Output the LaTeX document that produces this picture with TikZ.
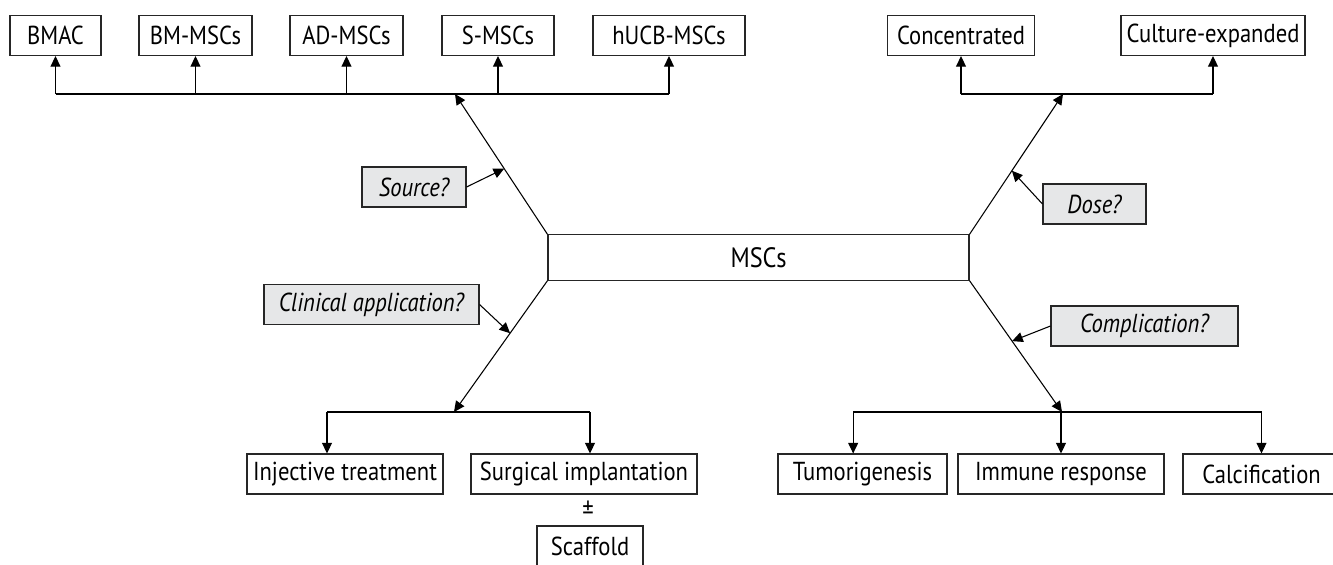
\documentclass[tikz,border=0pt]{standalone}
\usepackage{fontspec}
\setmainfont{PT Sans}[FakeStretch=0.87]
\usetikzlibrary{arrows.meta,calc}
\definecolor{qgray}{HTML}{E6E7E8}

\begin{document}
\begin{tikzpicture}[x=0.75pt, y=-0.75pt, line width=0.8pt,
  box/.style={draw=black!85, minimum height=30pt, inner sep=0pt,
    font=\fontsize{19.5}{22}\selectfont},
  w/.style={minimum width=#1*0.75pt},
  qbox/.style={box, fill=qgray, font=\fontsize{19.5}{22}\selectfont\itshape},
  arr/.style={-{Triangle[length=8pt, width=7.5pt]}}]
\clip (0,0) rectangle (1333,564);
% sources
\node [box, w=91] (bmac) at (55.5,35.5) {BMAC};
\node [box, w=113] (bm) at (195.5,35.5) {BM-MSCs};
\node [box, w=113] (ad) at (346.5,35.5) {AD-MSCs};
\node [box, w=112] (s) at (498,35.5) {S-MSCs};
\node [box, w=152] (hucb) at (669,35.5) {hUCB-MSCs};
% dose
\node [box, w=147] (conc) at (961,35.5) {Concentrated};
\node [box, w=184] (cult) at (1213,35.5) {Culture-expanded};
% centre
\node [box, w=421, minimum height=34pt, font=\fontsize{21}{24}\selectfont] (mscs) at (758.5,257.5) {MSCs};
% questions
\node [qbox, w=104] (source) at (414,187) {Source?};
\node [qbox, w=103] (dose) at (1094.5,204) {Dose?};
\node [qbox, w=215] (clin) at (371.5,304.5) {Clinical application?};
\node [qbox, w=187] (compl) at (1144.5,326) {Complication?};
% application
\node [box, w=196] (inj) at (345,474) {Injective treatment};
\node [box, w=226] (surg) at (584,474) {Surgical implantation};
\node [font=\fontsize{19.5}{22}\selectfont] (pm) at (588,510) {±};
\node [box, w=106] (scaf) at (590,546) {Scaffold};
% complications
\node [box, w=169] (tum) at (862.5,474) {Tumorigenesis};
\node [box, w=206] (imm) at (1061,474) {Immune response};
\node [box, w=157] (calc) at (1261.5,474) {Calcification};

\coordinate (tl) at (455,94);
\coordinate (tr) at (1063,94);
\coordinate (bl) at (454,412);
\coordinate (br) at (1062,412);
\coordinate (injtop) at ([xshift=-13.5pt]inj.north);
\coordinate (surgtop) at ([xshift=4.5pt]surg.north);
\coordinate (tumtop) at ([xshift=-7pt]tum.north);

% buses
\draw (bmac.south |- tl) -- (hucb.south |- tl);
\draw (conc.south |- tr) -- (cult.south |- tr);
\draw (injtop |- bl) -- (surgtop |- bl);
\draw (tumtop |- br) -- (calc.north |- br);
\foreach \n in {bmac,bm,ad,s,hucb}
  \draw [arr] (\n.south |- tl) -- (\n.south);
\foreach \n in {conc,cult}
  \draw [arr] (\n.south |- tr) -- (\n.south);
\foreach \n in {injtop,surgtop}
  \draw [arr] (\n |- bl) -- (\n);
\foreach \n in {tumtop,imm.north,calc.north}
  \draw [arr] (\n |- br) -- (\n);

% branches
\draw [arr] (mscs.north west) -- (tl);
\draw [arr] (mscs.north east) -- (tr);
\draw [arr] (mscs.south west) -- (bl);
\draw [arr] (mscs.south east) -- (br);
\draw [arr] (source.east) -- ($(mscs.north west)!0.468!(tl)$);
\draw [arr] (dose.west) -- ($(mscs.north east)!0.453!(tr)$);
\draw [arr] (clin.east) -- ($(mscs.south west)!0.4!(bl)$);
\draw [arr] (compl.west) -- ($(mscs.south east)!0.46!(br)$);
\end{tikzpicture}
\end{document}
